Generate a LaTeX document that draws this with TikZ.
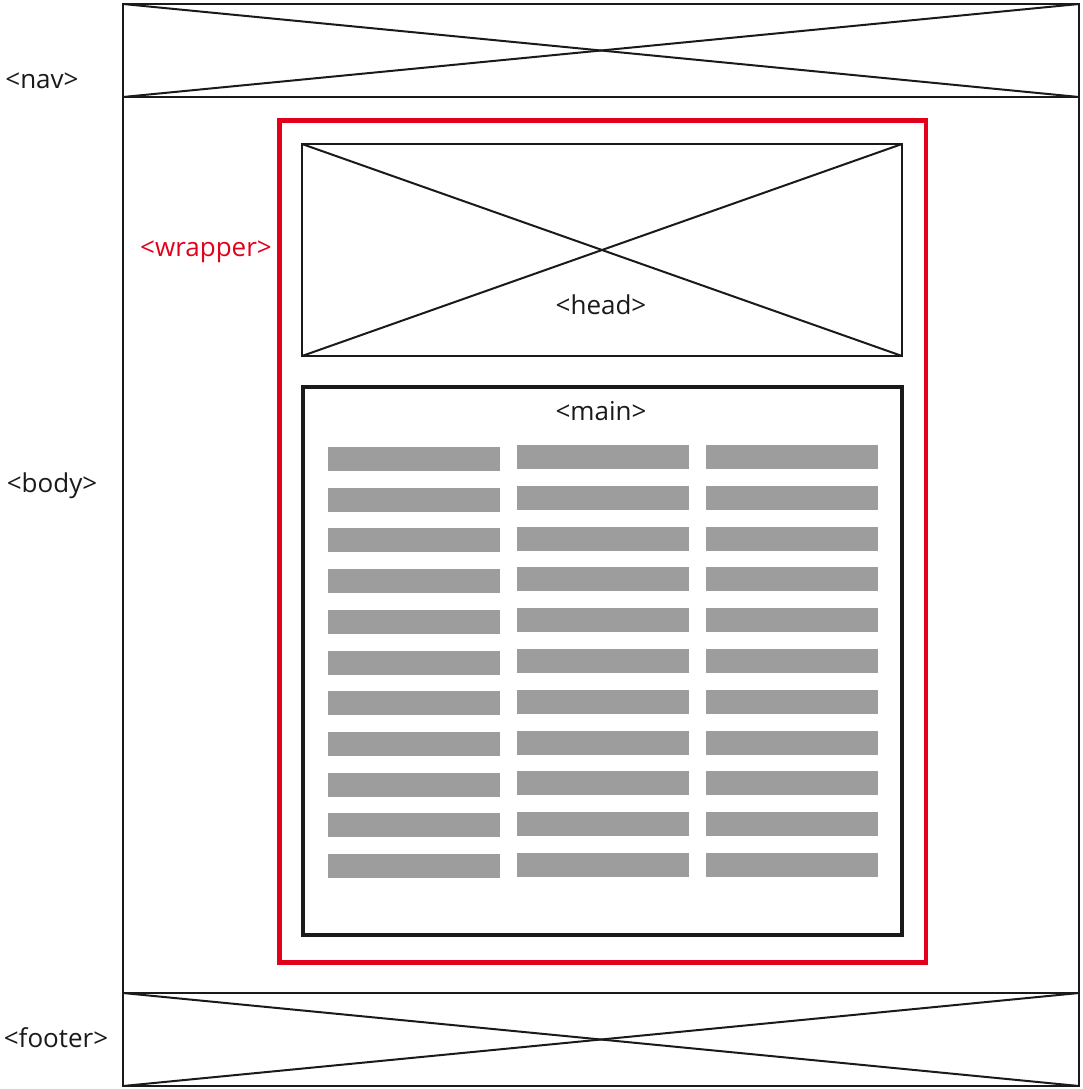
\documentclass[tikz,border=0pt]{standalone}
\usepackage{fontspec}
\setmainfont{Open Sans}
\definecolor{wred}{RGB}{226,0,26}
\definecolor{bargray}{RGB}{157,157,157}
\definecolor{ink}{RGB}{26,26,26}
\begin{document}
\begin{tikzpicture}[x=0.75pt,y=-0.75pt,
  thinline/.style={draw=ink, line width=1.5pt},
  mainline/.style={draw=ink, line width=3pt},
  redline/.style={draw=wred, line width=3.4pt},
  bar/.style={fill=bargray, draw=none},
  lbl/.style={font=\fontsize{19.5pt}{24pt}\selectfont, text=ink, anchor=base, inner sep=0pt},
  redlbl/.style={lbl, text=wred}]
\useasboundingbox (0,0) rectangle (1082,1089);
% outer page
\coordinate (pTL) at (123,4);
\coordinate (pBR) at (1079,1086);
\coordinate (navBL) at (123,97);
\coordinate (navBR) at (1079,97);
\coordinate (navTR) at (1079,4);
\coordinate (ftTL) at (123,993);
\coordinate (ftTR) at (1079,993);
\coordinate (ftBL) at (123,1086);
\draw[thinline] (pTL) rectangle (pBR);
\draw[thinline] (navBL) -- (navBR);
\draw[thinline] (ftTL) -- (ftTR);
\draw[thinline] (pTL) -- (navBR);
\draw[thinline] (navBL) -- (navTR);
\draw[thinline] (ftTL) -- (pBR);
\draw[thinline] (ftBL) -- (ftTR);
% wrapper
\coordinate (wTL) at (279.5,120.5);
\coordinate (wBR) at (926,962.5);
\draw[redline] (wTL) rectangle (wBR);
% head
\coordinate (hTL) at (302,144);
\coordinate (hBR) at (902,356);
\coordinate (hTR) at (902,144);
\coordinate (hBL) at (302,356);
\draw[thinline] (hTL) rectangle (hBR);
\draw[thinline] (hTL) -- (hBR);
\draw[thinline] (hBL) -- (hTR);
% main
\coordinate (mTL) at (302.5,387);
\coordinate (mBR) at (902,935);
\draw[mainline] (mTL) rectangle (mBR);
% bars
\foreach \i in {0,...,10}{
  \fill[bar] (328,{447+\i*40.7}) rectangle (500,{471+\i*40.7});
  \fill[bar] (517,{445+\i*40.8}) rectangle (689,{469+\i*40.8});
  \fill[bar] (706,{445+\i*40.8}) rectangle (878,{469+\i*40.8});
}
% labels
\node[lbl] (nav) at (42,88) {<nav>};
\node[lbl] (body) at (52,492) {<body>};
\node[lbl] (footer) at (56,1047) {<footer>};
\node[redlbl] (wrapper) at (206,256) {<wrapper>};
\node[lbl] (head) at (601,314) {<head>};
\node[lbl] (main) at (601,420) {<main>};
\end{tikzpicture}
\end{document}
